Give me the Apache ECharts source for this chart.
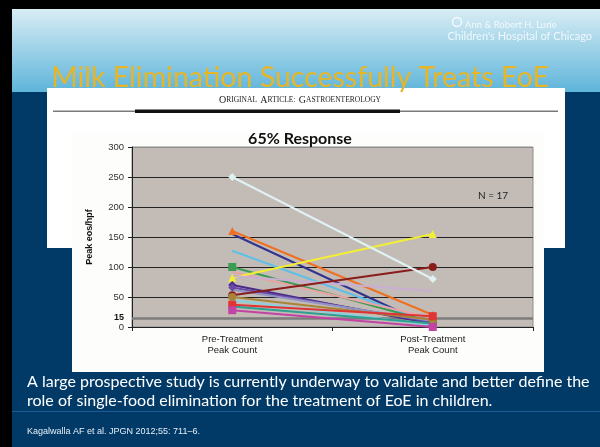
<!DOCTYPE html>
<html><head><meta charset="utf-8">
<script src="https://cdn.jsdelivr.net/npm/echarts@6/dist/echarts.min.js"></script>
<style>html,body{margin:0;padding:0;background:#000;}#c{width:600px;height:447px;}</style>
</head><body><div id="c"></div>
<script>
// ---- data ----
const categories = ['Pre-Treatment\nPeak Count', 'Post-Treatment\nPeak Count'];
const patients = ['P1','P2','P3','P4','P5','P6','P7','P8','P9','P10','P11','P12','P13','P14','P15','P16','P17'];
const preValues  = [250, 160, 155, 127, 100, 92, 82, 85, 70, 66, 62, 53, 50, 45, 37, 34, 28];
const postValues = [ 80,  20,   0,   5,   8, 15, 155, 60,  5,  8, 10, 100, 12,  3, 18,  6,  0];
const thresholdValue = 15;
const chartTitle = '65% Response';
const nLabel = 'N = 17';

// ---- styles ----
const lineColors = ['#dff2f2','#f07022','#32328f','#5fbfe6','#3b9b55','#eaa3a3','#f2ee35','#c9aed3','#4a2a88','#6a4aa8','#9494c4','#8a1c1c','#a8843a','#86d2e0','#e03434','#2f9f90','#c243a4'];
const lineSymbols = ['diamond','triangle','none','none','rect','none','triangle','none','diamond','diamond','none','circle','circle','none','rect','none','rect'];

const series = patients.map((p, i) => ({
  name: p, type: 'line',
  data: [preValues[i], postValues[i]],
  symbol: lineSymbols[i], symbolSize: 8, showSymbol: true,
  lineStyle: { color: lineColors[i], width: 2 },
  itemStyle: { color: lineColors[i] },
  z: 5 + (i === 0 ? 10 : 0),
  silent: true,
  markLine: i === 0 ? {
    silent: true, symbol: 'none',
    label: { show: true, position: 'start', distance: 8, formatter: String(thresholdValue),
      fontFamily: 'Arial, Liberation Sans', fontWeight: 'bold', fontSize: 9, color: '#111' },
    lineStyle: { color: '#7c7c7c', width: 2.5, type: 'solid' },
    data: [{ yAxis: thresholdValue }]
  } : undefined
}));

const chart = echarts.init(document.getElementById('c'), null, { renderer: 'canvas' });
chart.setOption({
  animation: false,
  backgroundColor: '#000',
  title: {
    text: chartTitle, left: 'center', top: 126,
    textStyle: { fontFamily: 'Lato', fontWeight: 'bold', fontSize: 16, color: '#111' }
  },
  grid: { left: 132, right: 67, top: 147, bottom: 120, show: true,
    backgroundColor: '#c3bcb6', borderColor: '#8c8c8c', borderWidth: 1 },
  xAxis: {
    type: 'category', data: categories, boundaryGap: true,
    axisLine: { lineStyle: { color: '#222', width: 1 } },
    axisTick: { show: true, length: 4, lineStyle: { color: '#222' } },
    axisLabel: { interval: 0, margin: 7, fontFamily: 'Arial, Liberation Sans', fontSize: 9.5, lineHeight: 11, color: '#222' }
  },
  yAxis: {
    type: 'value', min: 0, max: 300, interval: 50,
    name: 'Peak eos/hpf', nameLocation: 'middle', nameGap: 38, nameRotate: 90,
    nameTextStyle: { fontFamily: 'Arial, Liberation Sans', fontWeight: 'bold', fontSize: 9, color: '#111' },
    axisLine: { show: true, lineStyle: { color: '#222', width: 1 } },
    axisTick: { show: true, length: 4, lineStyle: { color: '#222' } },
    axisLabel: { margin: 8, fontFamily: 'Arial, Liberation Sans', fontSize: 9.5, color: '#333' },
    splitLine: { show: true, lineStyle: { color: ['#222','#222','#222','#222','#222','#222','#8c8c8c'], width: 1 } }
  },
  series: series,
  graphic: [
    { type: 'rect', z: -10, shape: { x: 12, y: 9, width: 588, height: 84 },
      style: { fill: new echarts.graphic.LinearGradient(0,0,0,1,[{offset:0,color:'#d8edf4'},{offset:1,color:'#5db4da'}]) } },
    { type: 'rect', z: -10, shape: { x: 12, y: 92, width: 588, height: 355 }, style: { fill: '#023a67' } },
    { type: 'circle', z: -5, shape: { cx: 457, cy: 22, r: 4.5 }, style: { fill: 'none', stroke: 'rgba(255,255,255,0.8)', lineWidth: 1.5 } },
    { type: 'text', z: -5, style: { text: 'Ann & Robert H. Lurie', x: 465, y: 25, verticalAlign: 'middle', fill: 'rgba(255,255,255,0.8)', font: '9.5px Lato' } },
    { type: 'text', z: -5, style: { text: "Children's Hospital of Chicago", x: 592, y: 36, align: 'right', verticalAlign: 'middle', fill: 'rgba(255,255,255,0.8)', font: '11px Lato' } },
    { type: 'text', z: -5, style: { text: 'Milk Elimination Successfully Treats EoE', x: 300, y: 78, align: 'center', verticalAlign: 'middle', fill: '#e6b628', font: '28.5px Lato' } },
    { type: 'rect', z: -8, shape: { x: 47, y: 88, width: 518, height: 160 }, style: { fill: '#ffffff' } },
    { type: 'rect', z: -8, shape: { x: 72, y: 133, width: 472, height: 239 }, style: { fill: '#fdfdfb' } },
    { type: 'rect', z: -7, shape: { x: 53, y: 110.5, width: 505, height: 1.5 }, style: { fill: '#7a7a7a' } },
    { type: 'rect', z: -6, shape: { x: 135, y: 109.5, width: 265, height: 3.5 }, style: { fill: '#111' } },
    { type: 'text', z: -5, style: {
        text: '{a|O}{b|RIGINAL} {a|A}{b|RTICLE:} {a|G}{b|ASTROENTEROLOGY}', x: 300, y: 100, align: 'center', verticalAlign: 'middle',
        rich: { a: { fontFamily: 'Liberation Serif', fontSize: 10, fill: '#222' }, b: { fontFamily: 'Liberation Serif', fontSize: 7.5, fill: '#222' } } } },
    { type: 'text', z: 20, style: { text: nLabel, x: 478, y: 196, verticalAlign: 'middle', fill: '#222', font: '10px Lato' } },
    { type: 'text', z: -5, style: { text: 'A large prospective study is currently underway to validate and better define the', x: 27, y: 382, verticalAlign: 'middle', fill: '#ffffff', font: '16px Lato' } },
    { type: 'text', z: -5, style: { text: 'role of single-food elimination for the treatment of EoE in children.', x: 27, y: 401, verticalAlign: 'middle', fill: '#ffffff', font: '16px Lato' } },
    { type: 'rect', z: -5, shape: { x: 12, y: 411, width: 588, height: 1 }, style: { fill: '#1d5c97' } },
    { type: 'text', z: -5, style: { text: 'Kagalwalla AF et al. JPGN 2012;55: 711–6.', x: 27, y: 432, verticalAlign: 'middle', fill: '#e6eef5', font: '9px "Liberation Sans"' } }
  ]
});
</script></body></html>
